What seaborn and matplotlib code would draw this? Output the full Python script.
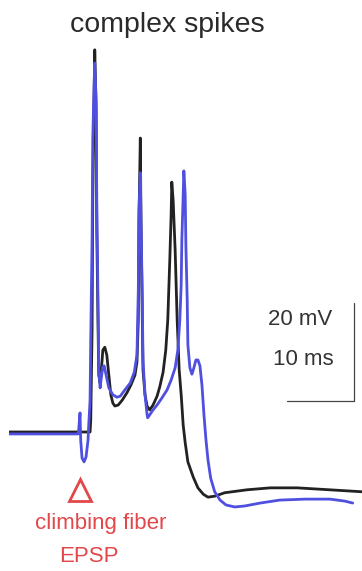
import matplotlib
matplotlib.use("Agg")
import matplotlib.pyplot as plt
import numpy as np
import pandas as pd
import seaborn as sns

# ── data (time in ms, membrane potential in mV) ─────────────────────────────

black_t = [0.0, 10.3, 12.1, 12.2, 12.4, 12.5, 12.7, 12.8, 13.0, 13.1, 13.3, 13.4,
           13.6, 13.7, 13.9, 14.0, 14.3, 14.6, 14.9, 15.2, 15.5, 15.8, 16.3, 16.9,
           17.6, 18.2, 18.8, 19.1, 19.3, 19.4, 19.6, 19.7, 19.9, 20.0, 20.3, 20.6,
           21.0, 21.5, 22.1, 22.5, 23.0, 23.4, 23.7, 24.0, 24.2, 24.3, 24.5, 24.8,
           25.1, 25.4, 25.7, 26.0, 26.3, 26.7, 27.5, 28.2, 29.0, 29.7, 30.7, 32.2,
           35.5, 39.0, 43.0, 47.9, 52.7]
black_v = [-70.0, -70.0, -70.0, -67.6, -49.2, -22.7, -2.2, 8.0, -4.3, -28.8, -49.2, -58.4,
           -60.0, -58.4, -55.3, -53.3, -52.7, -54.3, -58.4, -62.4, -64.1, -64.7, -64.5, -63.5,
           -62.0, -60.4, -58.4, -55.7, -47.1, -26.7, -10.0, -26.7, -47.1, -57.3, -62.4, -64.7,
           -65.5, -64.5, -62.7, -60.8, -57.8, -53.3, -47.1, -34.9, -25.7, -19.0, -22.7, -32.9,
           -47.1, -57.3, -62.4, -68.6, -72.2, -76.1, -79.2, -81.4, -82.7, -83.3, -83.1, -82.4,
           -81.8, -81.4, -81.4, -81.8, -82.2]

blue_t = [0.0, 10.3, 10.4, 10.6, 10.7, 10.9, 11.2, 11.5, 11.8, 11.9, 12.1, 12.2,
          12.4, 12.5, 12.7, 12.8, 13.0, 13.1, 13.3, 13.4, 13.6, 13.7, 14.0, 14.2,
          14.5, 14.9, 15.5, 16.1, 16.6, 17.3, 18.1, 18.7, 19.1, 19.3, 19.4, 19.6,
          19.7, 19.9, 20.0, 20.3, 20.6, 20.7, 21.0, 21.5, 22.1, 22.8, 23.6, 24.2,
          24.8, 25.2, 25.5, 25.7, 25.8, 26.0, 26.1, 26.3, 26.4, 26.6, 26.7, 27.0,
          27.3, 27.6, 27.9, 28.2, 28.5, 28.8, 29.1, 29.4, 29.7, 30.1, 30.7, 31.5,
          32.4, 33.7, 35.2, 37.5, 40.4, 44.2, 47.9, 50.1, 51.3]
blue_v = [-70.4, -70.4, -69.6, -66.1, -71.6, -75.3, -76.1, -75.1, -71.6, -68.6, -63.5, -51.2,
          -30.8, -10.4, 0.8, 5.3, -2.2, -22.7, -45.1, -57.3, -61.0, -59.8, -56.7, -56.5,
          -58.4, -61.0, -62.4, -62.9, -62.7, -61.4, -60.0, -57.8, -54.3, -41.0, -24.7, -17.1,
          -26.7, -43.1, -55.3, -62.4, -66.3, -67.1, -66.5, -65.5, -64.5, -63.1, -61.4, -59.4,
          -56.9, -53.3, -47.1, -40.0, -30.8, -21.6, -16.7, -21.6, -31.8, -43.1, -52.2, -56.9,
          -58.2, -56.9, -55.3, -55.3, -56.5, -60.4, -66.5, -71.6, -75.7, -79.4, -82.2, -83.9,
          -84.9, -85.3, -85.1, -84.5, -83.9, -83.7, -83.7, -84.1, -84.5]

stim_t = 10.6            # climbing fiber stimulus
scale_t0, scale_ms = 41.5, 10
scale_v0, scale_mv = -63.7, 20

# ── plot ─────────────────────────────────────────────────────────────────────

sns.set_theme(style="white")
plt.rcParams["font.family"] = ["Liberation Sans", "DejaVu Sans"]

df = pd.concat([
    pd.DataFrame({"t": black_t, "v": black_v, "trace": "black"}),
    pd.DataFrame({"t": blue_t, "v": blue_v, "trace": "blue"}),
], ignore_index=True)

fig = plt.figure(figsize=(3.62, 5.71), dpi=100, facecolor="white")
ax = fig.add_axes([9 / 362, 0, 1 - 9 / 362, 1 - 8 / 571])
ax.set_facecolor("#f6f6f6")

sns.lineplot(data=df, x="t", y="v", hue="trace", hue_order=["black", "blue"],
             palette={"black": "#222222", "blue": "#4f4fe0"},
             sort=False, estimator=None, linewidth=2.0, legend=False, ax=ax)

# scale bars
ax.plot([scale_t0, scale_t0 + scale_ms], [scale_v0, scale_v0], color="#444444", lw=0.9)
ax.plot([scale_t0 + scale_ms] * 2, [scale_v0, scale_v0 + scale_mv], color="#444444", lw=0.9)
ax.text(43.4, -47.1, f"{scale_mv} mV", ha="center", va="center", fontsize=16, color="#333333")
ax.text(44.0, -55.3, f"{scale_ms} ms", ha="center", va="center", fontsize=16, color="#333333")

# stimulus marker and labels
red = "#e2474a"
ax.plot([stim_t], [-81.8], marker="^", ms=16, mfc="none", mec=red, mew=2.0)
ax.text(13.7, -88.6, "climbing fiber", ha="center", va="center", fontsize=16, color=red)
ax.text(11.9, -95.5, "EPSP", ha="center", va="center", fontsize=16, color=red)

ax.text(23.7, 13.1, "complex spikes", ha="center", va="center", fontsize=20.5, color="#2a2a2a")

ax.set_xlim(0, 52.69)
ax.set_ylim(-98.37, 16.53)
ax.set_axis_off()

fig.savefig("out.png", dpi=100, facecolor=fig.get_facecolor())
